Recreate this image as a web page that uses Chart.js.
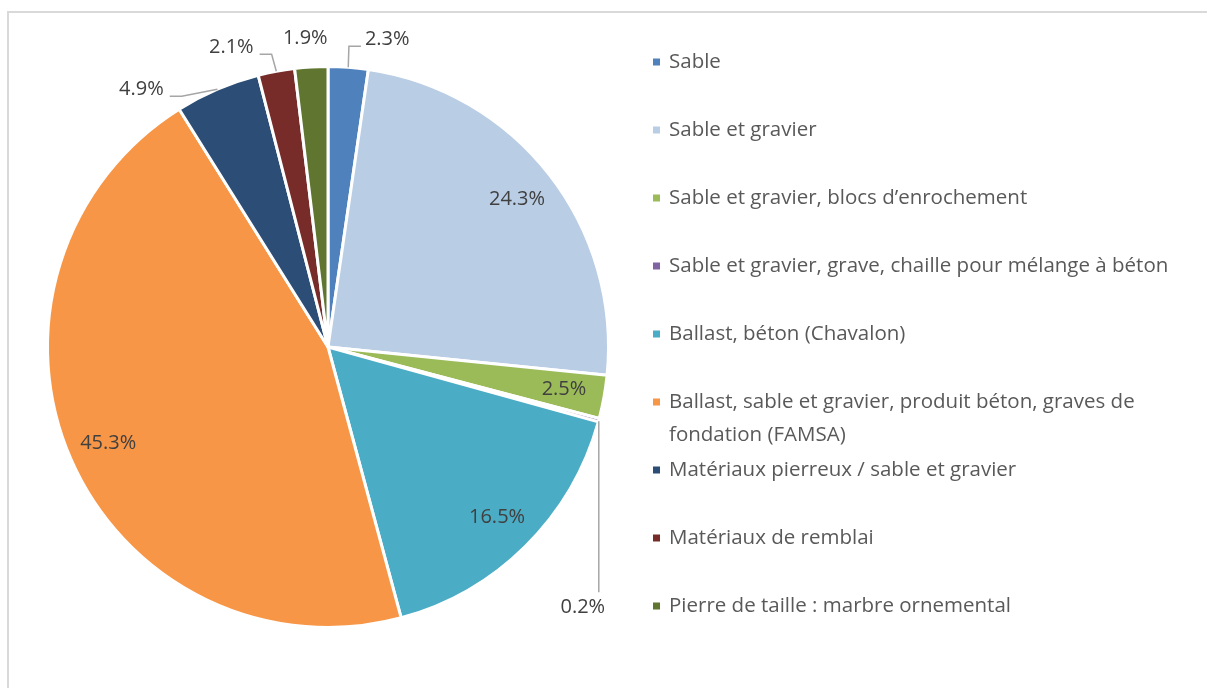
<!DOCTYPE html>
<html>
<head>
<meta charset="utf-8">
<script src="https://cdn.jsdelivr.net/npm/chart.js@4/dist/chart.umd.min.js"></script>
<style>
  html, body { margin: 0; padding: 0; background: #fff; overflow: hidden; }
  #wrap { width: 1207px; height: 688px; position: relative; }
</style>
</head>
<body>
<div id="wrap"><canvas id="pie" width="1207" height="688"></canvas></div>
<script>
/* ---- données ---- */
const CATEGORIES = [
    "Sable",
    "Sable et gravier",
    "Sable et gravier, blocs d\u2019enrochement",
    "Sable et gravier, grave, chaille pour mélange à béton",
    "Ballast, béton (Chavalon)",
    "Ballast, sable et gravier, produit béton, graves de fondation (FAMSA)",
    "Matériaux pierreux / sable et gravier",
    "Matériaux de remblai",
    "Pierre de taille : marbre ornemental"
];
const PARTS = [2.3, 24.3, 2.5, 0.2, 16.5, 45.3, 4.9, 2.1, 1.9];
const COULEURS = [
    "#4f81bd", "#b9cde5", "#9bbb59", "#8064a2", "#4bacc6",
    "#f79646", "#2c4d75", "#772c2a", "#5f7530"
];

/* étiquettes placées hors du camembert (décalage par rapport au bord de la part) */
const ETIQ_EXT = {
    0: { dx: 39, dy: -28, lien: "cote" },
    3: { dx: -16, dy: 187, lien: "dessous" },
    6: { dx: -76, dy: 0, lien: "cote" },
    7: { dx: -45, dy: -24, lien: "cote" },
    8: { dx: -6, dy: -29, lien: "aucun" }
};

const FONT = "'Open Sans', 'Noto Sans', sans-serif";

/* cadre gris */
const cadrePlugin = {
    id: "cadre",
    beforeDraw(chart) {
        const c = chart.ctx;
        c.save();
        c.strokeStyle = "#d9d9d9";
        c.lineWidth = 2;
        c.beginPath();
        c.moveTo(8, 700);
        c.lineTo(8, 12);
        c.lineTo(1220, 12);
        c.stroke();
        c.restore();
    }
};

/* étiquettes de données */
const etiquettesPlugin = {
    id: "etiquettes",
    afterDatasetsDraw(chart) {
        const c = chart.ctx;
        const meta = chart.getDatasetMeta(0);
        c.save();
        c.font = "20px " + FONT;
        c.fillStyle = "#404040";
        c.textBaseline = "middle";
        c.textAlign = "center";

        meta.data.forEach((arc, i) => {
            const mid = (arc.startAngle + arc.endAngle) / 2;
            const R = arc.outerRadius;
            const txt = PARTS[i].toFixed(1) + "%";
            const ext = ETIQ_EXT[i];

            if (!ext) {
                const r = R * 0.855;
                c.fillText(txt, arc.x + Math.cos(mid) * r, arc.y + Math.sin(mid) * r);
                return;
            }

            const ex = arc.x + Math.cos(mid) * R;
            const ey = arc.y + Math.sin(mid) * R;
            const lx = ex + ext.dx;
            const ly = ey + ext.dy;
            const w = c.measureText(txt).width;

            c.fillText(txt, lx, ly);

            c.strokeStyle = "#a6a6a6";
            c.lineWidth = 1.5;
            c.beginPath();
            if (ext.lien === "cote") {
                const droite = lx > ex;
                const finX = droite ? lx - w / 2 - 4 : lx + w / 2 + 6;
                const coudeX = droite ? finX - 12 : finX + 12;
                const y = ly + 7;
                c.moveTo(ex, ey);
                c.lineTo(coudeX, y);
                c.lineTo(finX, y);
                c.stroke();
            } else if (ext.lien === "dessous") {
                c.moveTo(ex, ey + 1);
                c.lineTo(ex, ly - 15);
                c.stroke();
            }
        });
        c.restore();
    }
};

/* légende à droite */
const legendePlugin = {
    id: "legende",
    afterDraw(chart) {
        const c = chart.ctx;
        const x0 = 653, xt = 669, y0 = 62, pas = 68, interligne = 33, maxW = 530;
        c.save();
        c.font = "20.5px " + FONT;
        c.textBaseline = "middle";
        c.textAlign = "left";

        CATEGORIES.forEach((lab, i) => {
            const y = y0 + i * pas;
            c.fillStyle = COULEURS[i];
            c.fillRect(x0, y - 3.5, 7, 7);

            // retour à la ligne
            const mots = lab.split(" ");
            const lignes = [];
            let cur = "";
            for (const m of mots) {
                const essai = cur ? cur + " " + m : m;
                if (c.measureText(essai).width > maxW && cur) {
                    lignes.push(cur);
                    cur = m;
                } else {
                    cur = essai;
                }
            }
            lignes.push(cur);

            c.fillStyle = "#595959";
            lignes.forEach((l, k) => c.fillText(l, xt, y + k * interligne));
        });
        c.restore();
    }
};

new Chart(document.getElementById("pie"), {
    type: "pie",
    data: {
        labels: CATEGORIES,
        datasets: [{
            data: PARTS,
            backgroundColor: COULEURS,
            borderColor: "#ffffff",
            borderWidth: 3
        }]
    },
    options: {
        responsive: false,
        animation: false,
        layout: { padding: { left: 46, right: 597, top: 65, bottom: 59 } },
        plugins: {
            legend: { display: false },
            tooltip: { enabled: false }
        }
    },
    plugins: [cadrePlugin, etiquettesPlugin, legendePlugin]
});
</script>
</body>
</html>
